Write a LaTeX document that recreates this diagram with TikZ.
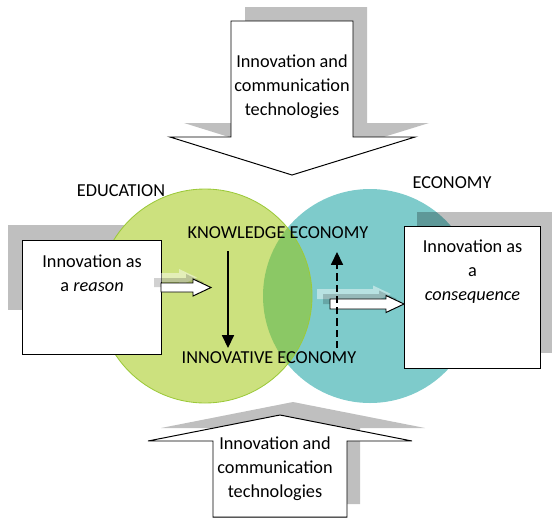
\documentclass[tikz,border=0pt]{standalone}
\usepackage{fontspec}
\setmainfont{Carlito}
\usetikzlibrary{positioning,arrows.meta}

\begin{document}
\begin{tikzpicture}[
        x=0.025cm, y=-0.025cm,
        greyshadow/.style={fill=shadowg, draw=none},
        bigarrow/.style={fill=white, draw=black, line width=0.7pt, line join=miter},
        smallarrow/.style={fill=white, draw=black, line width=0.7pt, line join=miter},
        fadeback/.style={fill=white, fill opacity=0.45, draw=none},
        fadedark/.style={fill=black, fill opacity=0.18, draw=none},
        infobox/.style={draw=black, fill=white, line width=0.8pt, inner sep=0pt},
        boxtext/.style={align=center, inner sep=0pt, font=\fontsize{13}{16.8}\selectfont},
        clab/.style={inner sep=0pt, anchor=base, font=\fontsize{13}{16}\selectfont},
        flow/.style={line width=0.8pt, -{Triangle[width=0.3cm, length=0.32cm]}},
      ]
      \definecolor{shadowg}{HTML}{BFBFBF}
      \definecolor{edug}{HTML}{CCE17E}
      \definecolor{eduline}{HTML}{9CC93A}
      \definecolor{ecot}{HTML}{7ECBCB}
      \definecolor{lensg}{HTML}{8BC865}
      \path[use as bounding box] (0,0) rectangle (552,520);
      % shadow of the left box sits under the circles
      \fill[greyshadow] (8,225) rectangle (150,310);
      % the two spheres and their overlap
      \fill[ecot] (370,296) circle (107);
      \fill[edug] (205,296) circle (107);
      \begin{scope}
        \clip (205,296) circle (107);
        \fill[lensg] (370,296) circle (107);
      \end{scope}
      \draw[eduline, line width=0.6pt] (205,296) circle (107);
      % shadow of the right box, laid over the teal
      \fill[black, opacity=0.25] (417,212) rectangle (553,353);
      % top block arrow
      \fill[greyshadow, shift={(14,-14)}] (231,21) -- (353,21) -- (353,137) -- (415,137)
        -- (292,175) -- (170,137) -- (231,137) -- cycle;
      \draw[bigarrow] (231,21) -- (353,21) -- (353,137) -- (415,137)
        -- (292,175) -- (170,137) -- (231,137) -- cycle;
      \node[boxtext, anchor=north] (ictop) at (292,55) {Innovation and\\communication\\technologies};
      % bottom block arrow
      \fill[greyshadow, shift={(13,-13)}] (213,517) -- (213,441) -- (148,441) -- (280,415)
        -- (412,441) -- (347,441) -- (347,517) -- cycle;
      \draw[bigarrow] (213,517) -- (213,441) -- (148,441) -- (280,415)
        -- (412,441) -- (347,441) -- (347,517) -- cycle;
      \node[boxtext, anchor=north] (icbot) at (275,437) {Innovation and\\communication\\technologies};
      % the two boxes
      \node[infobox, minimum width=3.475cm, minimum height=2.85cm, anchor=north west] (reason) at (22,240) {};
      \node[boxtext, below=0.37cm of reason.north] (reasontxt) {Innovation as\\a \textit{reason}};
      \node[infobox, minimum width=3.4cm, minimum height=3.55cm, anchor=north west] (conseq) at (404,226) {};
      \node[boxtext, below=0.35cm of conseq.north] (conseqtxt) {Innovation as\\a\\\textit{consequence}};
      % small block arrows with their faded shadows
      \begin{scope}[shift={(161,287.5)}]
        \fill[fadeback, shift={(-14,-10)}] (0,-4.5) -- (32,-4.5) -- (32,-8.5) -- (50,0) -- (32,8.5) -- (32,4.5) -- (0,4.5) -- cycle;
        \fill[fadedark, shift={(-7,-5)}] (0,-4.5) -- (32,-4.5) -- (32,-8.5) -- (50,0) -- (32,8.5) -- (32,4.5) -- (0,4.5) -- cycle;
        \draw[smallarrow] (0,-4.5) -- (32,-4.5) -- (32,-8.5) -- (50,0) -- (32,8.5) -- (32,4.5) -- (0,4.5) -- cycle;
      \end{scope}
      \begin{scope}[shift={(330,304)}]
        \fill[fadeback, shift={(-13,-10)}] (0,-5) -- (56,-5) -- (56,-8.5) -- (74,0) -- (56,8.5) -- (56,5) -- (0,5) -- cycle;
        \fill[fadedark, shift={(-7,-5)}] (0,-5) -- (56,-5) -- (56,-8.5) -- (74,0) -- (56,8.5) -- (56,5) -- (0,5) -- cycle;
        \draw[smallarrow] (0,-5) -- (56,-5) -- (56,-8.5) -- (74,0) -- (56,8.5) -- (56,5) -- (0,5) -- cycle;
      \end{scope}
      % labels
      \node[clab] (edu) at (121,196) {EDUCATION};
      \node[clab] (eco) at (452,188) {ECONOMY};
      \node[clab] (know) at (278,238) {KNOWLEDGE ECONOMY};
      \node[clab] (innov) at (269,363) {INNOVATIVE ECONOMY};
      % knowledge turns into innovation and back
      \coordinate (downtop) at (228,251);
      \coordinate (downend) at (228,348);
      \coordinate (uptop) at (337,252);
      \coordinate (upend) at (337,348);
      \draw[flow] (downtop) -- (downend);
      \draw[flow, dash pattern=on 5pt off 3pt] (upend) -- (uptop);
    \end{tikzpicture}
\end{document}
